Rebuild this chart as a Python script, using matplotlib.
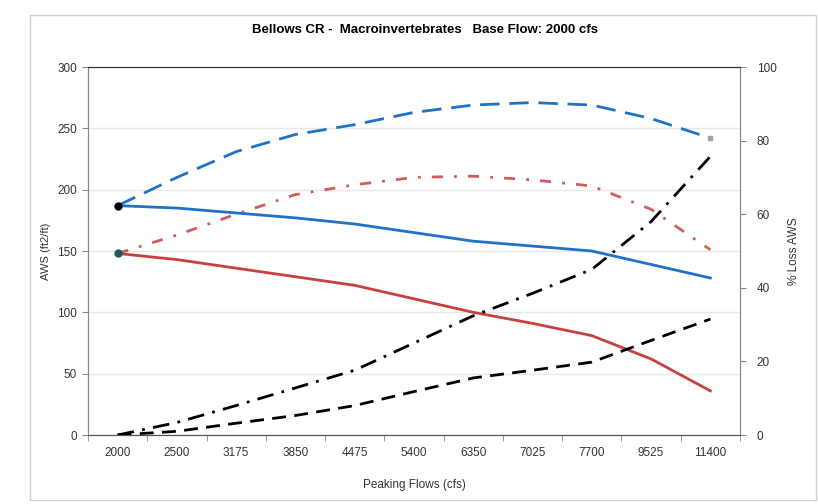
import matplotlib.pyplot as plt
import numpy as np
from matplotlib.patches import Rectangle

# data
flows = ["2000", "2500", "3175", "3850", "4475", "5400", "6350", "7025", "7700", "9525", "11400"]
aws_blue = [187, 185, 181, 177, 172, 165, 158, 154, 150, 139, 128]
aws_red = [148, 143, 136, 129, 122, 111, 100, 91, 81, 62, 36]
aws_blue_dash = [187, 210, 231, 245, 253, 263, 269, 271, 269, 258, 242]
aws_red_dashdot = [148, 163, 180, 196, 204, 210, 211, 208, 203, 184, 151]
loss_blue = [0, 1, 3.2, 5.3, 8, 11.8, 15.5, 17.6, 19.8, 25.7, 31.5]
loss_red = [0, 3.4, 8, 12.8, 17.6, 25, 32.4, 38.5, 45, 58, 75.7]

plt.rcParams["font.family"] = ["Liberation Sans", "DejaVu Sans"]

blue = "#1f72c4"
red = "#c8403f"

fig = plt.figure(figsize=(8.18, 5.04), dpi=100)
fig.patches.append(Rectangle((30 / 818, 4 / 504), 786 / 818, 485 / 504, transform=fig.transFigure,
                             fill=False, edgecolor="#d0d0d0", linewidth=1))
ax = fig.add_axes([88 / 818, 1 - 435 / 504, 652 / 818, 368 / 504])
ax2 = ax.twinx()

x = np.arange(len(flows))

ax.plot(x, aws_blue_dash, color=blue, lw=2, dashes=(7, 3.5))
ax.plot(x, aws_red_dashdot, color=red, lw=2, dashes=(4, 4, 1, 4), alpha=0.85)
ax.plot(x, aws_blue, color=blue, lw=2)
ax.plot(x, aws_red, color=red, lw=2)
ax.plot(x[0], aws_blue[0], "o", color="black", ms=5, zorder=5)
ax.plot(x[0], aws_red[0], "o", color="#1d5c5c", ms=5, zorder=5)
ax.plot(x[-1], aws_blue_dash[-1], "s", color="#9aa6b0", ms=3, zorder=5)

ax2.plot(x, loss_red, color="black", lw=2, dashes=(6, 3, 1, 3))
ax2.plot(x, loss_blue, color="black", lw=2, dashes=(5, 3))

ax.set_xlim(-0.5, len(flows) - 0.5)
ax.set_ylim(0, 300)
ax2.set_ylim(0, 100)
ax.set_yticks(range(0, 301, 50))
ax2.set_yticks(range(0, 101, 20))
ax.set_xticks(x)
ax.set_xticklabels(flows)
ax.set_xticks(np.arange(-0.5, len(flows), 1), minor=True)
ax.tick_params(axis="x", which="major", length=0, pad=9, labelsize=8.5, labelcolor="#333333")
ax.tick_params(axis="x", which="minor", length=4, color="#888888")
ax.tick_params(axis="y", length=4, color="#888888", labelsize=8.5, labelcolor="#333333", pad=4)
ax2.tick_params(axis="y", length=4, color="#888888", labelsize=8.5, labelcolor="#333333", pad=8)

ax.yaxis.grid(True, color="#e8e8e8", lw=1)
ax.set_axisbelow(True)
for a in (ax, ax2):
    a.spines["left"].set_color("#888888")
    a.spines["right"].set_color("#888888")
    a.spines["bottom"].set_color("#555555")
    a.spines["top"].set_color("#333333")

ax.set_ylabel("AWS (ft2/ft)", fontsize=8, color="#333333", labelpad=4)
ax2.set_ylabel("% Loss AWS", fontsize=8.5, color="#333333", rotation=90, labelpad=8)
ax.set_xlabel("Peaking Flows (cfs)", fontsize=8.5, color="#333333", labelpad=14)
fig.text(425 / 818, 1 - 30 / 504, "Bellows CR -  Macroinvertebrates   Base Flow: 2000 cfs",
         ha="center", va="center", fontsize=9.5, fontweight="bold")

fig.savefig("out.png", dpi=100)
